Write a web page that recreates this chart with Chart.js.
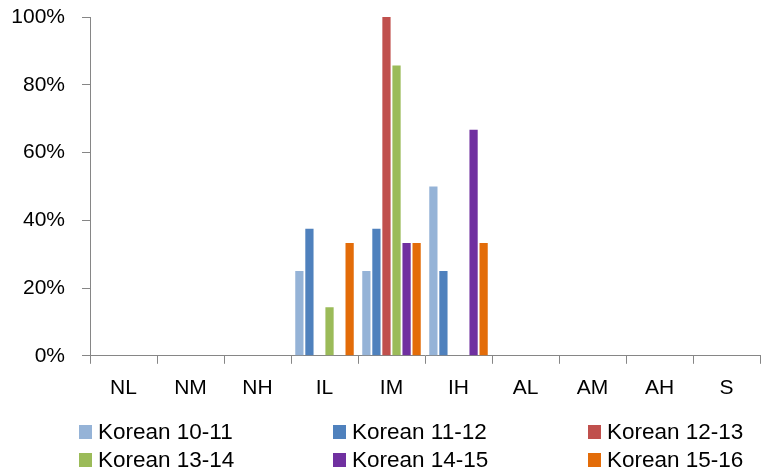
<!DOCTYPE html>
<html>
<head>
<meta charset="utf-8">
<script src="https://cdn.jsdelivr.net/npm/chart.js@4"></script>
<style>
  html, body { margin: 0; padding: 0; background: #fff; }
  #wrap { position: relative; width: 762px; height: 476px; }
  #legend { position: absolute; left: 0; top: 0; width: 762px; height: 476px; pointer-events: none;
            font-family: "Liberation Sans", Arial, sans-serif; font-size: 22.5px; color: #000; }
  .item { position: absolute; display: flex; align-items: center; white-space: nowrap; height: 28px; }
  .box { width: 13px; height: 14px; margin-right: 6px; }
</style>
</head>
<body>
<div id="wrap">
  <canvas id="chart" width="762" height="476"></canvas>
  <div id="legend"></div>
</div>
<script>
// ================= DATA =================
const categories = ["NL", "NM", "NH", "IL", "IM", "IH", "AL", "AM", "AH", "S"];
const yTicks = [0, 20, 40, 60, 80, 100];

const korean1011 = [0, 0, 0, 25, 25, 50, 0, 0, 0, 0];
const korean1112 = [0, 0, 0, 37.5, 37.5, 25, 0, 0, 0, 0];
const korean1213 = [0, 0, 0, 0, 100, 0, 0, 0, 0, 0];
const korean1314 = [0, 0, 0, 14.3, 85.7, 0, 0, 0, 0, 0];
const korean1415 = [0, 0, 0, 0, 33.3, 66.7, 0, 0, 0, 0];
const korean1516 = [0, 0, 0, 33.3, 33.3, 33.3, 0, 0, 0, 0];

const seriesNames = ["Korean 10-11", "Korean 11-12", "Korean 12-13", "Korean 13-14", "Korean 14-15", "Korean 15-16"];
const seriesColors = ["#95B3D7", "#4F81BD", "#C0504D", "#9BBB59", "#7030A0", "#E36C09"];
const seriesData = [korean1011, korean1112, korean1213, korean1314, korean1415, korean1516];

// ================= CHART =================
const axisGray = "#868686";
Chart.defaults.font.family = '"Liberation Sans", Arial, sans-serif';
Chart.defaults.font.size = 21;
Chart.defaults.color = "#000";

const datasets = seriesNames.map((name, i) => ({
    label: name,
    data: seriesData[i],
    backgroundColor: seriesColors[i],
    borderWidth: 0,
    categoryPercentage: 0.9,
    barPercentage: 0.82
}));

new Chart(document.getElementById("chart"), {
    type: "bar",
    data: { labels: categories, datasets },
    options: {
        responsive: false,
        animation: false,
        layout: { padding: { top: 17, right: 2, bottom: 63, left: 0 } },
        plugins: { legend: { display: false }, tooltip: { enabled: false } },
        scales: {
            x: {
                grid: { display: true, drawOnChartArea: false, drawTicks: true, tickLength: 8, color: axisGray, offset: true },
                border: { color: axisGray, width: 1 },
                ticks: { padding: 12 }
            },
            y: {
                min: 0,
                max: 100,
                afterFit: s => { s.width = 90; s.paddingTop = 0; s.paddingBottom = 0; },
                afterBuildTicks: s => { s.ticks = yTicks.map(v => ({ value: v })); },
                grid: { display: true, drawOnChartArea: false, drawTicks: true, tickLength: 8, color: axisGray },
                border: { color: axisGray, width: 1 },
                ticks: { padding: 17, callback: v => v + "%" }
            }
        }
    }
});

// ================= LEGEND (3 columns) =================
const legendCols = [79, 333, 588];
const legendRows = [418, 446];
const legend = document.getElementById("legend");
seriesNames.forEach((name, i) => {
    const item = document.createElement("div");
    item.className = "item";
    item.style.left = legendCols[i % 3] + "px";
    item.style.top = legendRows[Math.floor(i / 3)] + "px";
    item.innerHTML = '<span class="box" style="background:' + seriesColors[i] + '"></span><span>' + name + '</span>';
    legend.appendChild(item);
});
</script>
</body>
</html>
